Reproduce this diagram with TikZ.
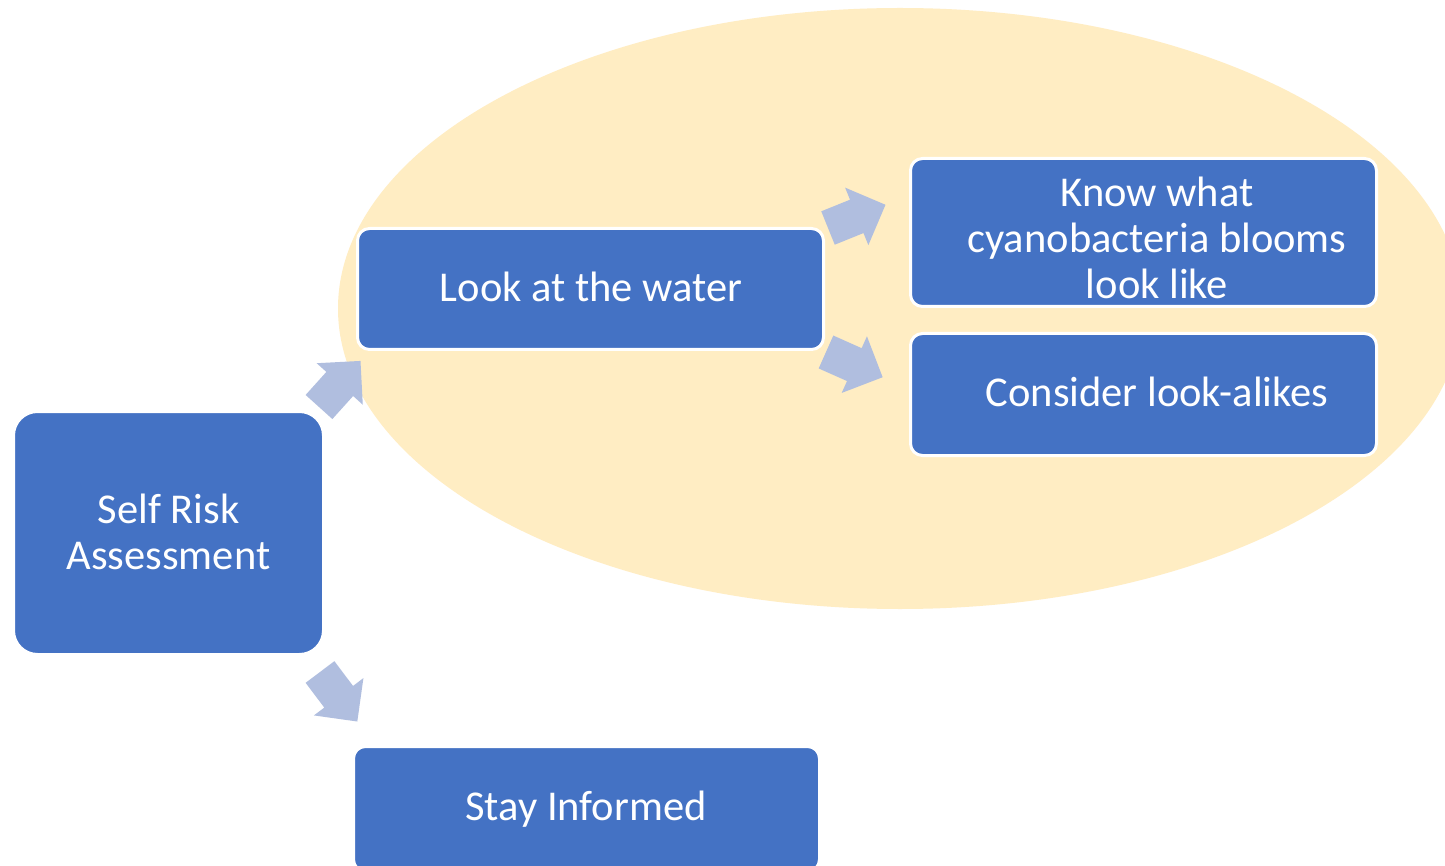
\documentclass[tikz,border=0pt]{standalone}
\usepackage{fontspec}
\setmainfont{Carlito}
\definecolor{boxblue}{HTML}{4472C4}
\definecolor{ovalfill}{HTML}{FFEDC3}
\definecolor{arrowfill}{HTML}{B0BEDF}
\tikzset{
  box/.style={fill=boxblue, draw=white, line width=3pt, rounded corners=12pt, inner sep=0pt},
  lbl/.style={text=white, font=\fontsize{42.5}{46}\selectfont, align=center, inner sep=0pt},
  pics/barrow/.style={code={
    \fill[arrowfill] (0,-18) -- (31,-18) -- (31,-31) -- (62,0) -- (31,31) -- (31,18) -- (0,18) -- cycle;}}
}
\begin{document}
\begin{tikzpicture}[x=1pt,y=-1pt]
\useasboundingbox (0,0) rectangle (1445,866);
\clip (0,0) rectangle (1445,866);
\fill[white] (0,0) rectangle (1445,866);
% oval
\fill[ovalfill] (900,308.5) ellipse [x radius=562, y radius=300.5];
% boxes
\node[box, rounded corners=24pt, minimum width=310pt, minimum height=243pt] (self) at (168.5,533) {};
\node[lbl] (selftxt) at (168.5,532) {Self Risk\\Assessment};
\node[box, minimum width=466pt, minimum height=121pt] (look) at (590.5,289) {};
\node[lbl] (looktxt) at (591,287) {Look at the water};
\node[box, minimum width=466pt, minimum height=148pt] (know) at (1143.5,232.5) {};
\node[lbl] (knowtxt) at (1157,238) {Know what\\cyanobacteria blooms\\look like};
\node[box, minimum width=466pt, minimum height=122pt] (cons) at (1143.5,394.5) {};
\node[lbl] (constxt) at (1157,392) {Consider look-alikes};
\node[box, minimum width=466pt, minimum height=125pt] (stay) at (586.5,809) {};
\node[lbl] (staytxt) at (586,809) {Stay Informed};
% block arrows
\pic[rotate=48] at (319,407) {barrow};
\pic[rotate=-53] at (320,672) {barrow};
\pic[rotate=22] at (828,228) {barrow};
\pic[rotate=-24] at (826,352) {barrow};
\end{tikzpicture}
\end{document}
